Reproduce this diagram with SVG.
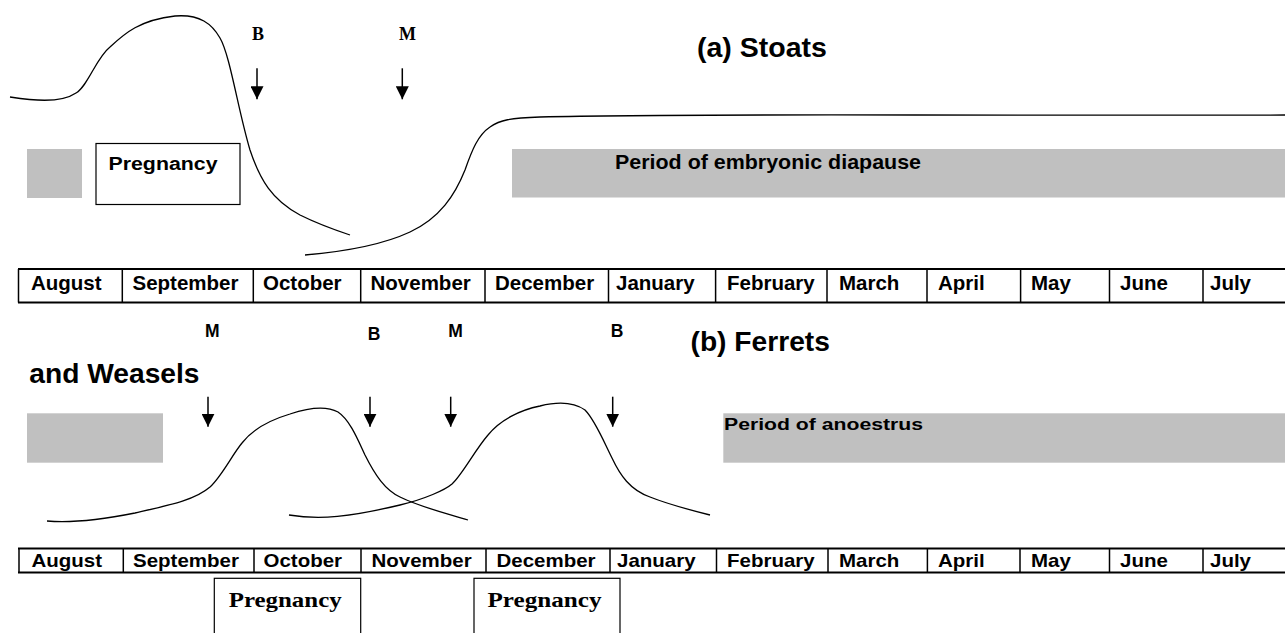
<svg xmlns="http://www.w3.org/2000/svg" width="1285" height="633" viewBox="0 0 1285 633">
<style>
.sans{font-family:"Liberation Sans",Arial,sans-serif;font-weight:bold;fill:#000}
.serif{font-family:"Liberation Serif","Times New Roman",serif;font-weight:bold;fill:#000}
.mon{font-size:20.5px}
.gray{fill:#c0c0c0;stroke:none}
.box{fill:#fff;stroke:#000;stroke-width:1.2}
.curve{fill:none;stroke:#000;stroke-width:1.3}
.arrow{stroke:#000;stroke-width:1.5;fill:none;marker-end:url(#ah)}
.hl{stroke:#000;stroke-width:2}
.vl{stroke:#000;stroke-width:1.5}
</style>
<defs>
<marker id="ah" viewBox="0 0 12 12" refX="12" refY="6" markerWidth="13" markerHeight="13" markerUnits="userSpaceOnUse" orient="auto">
<path d="M0,0 L12,6 L0,12 Z" fill="#000"/>
</marker>
</defs>
<rect width="1285" height="633" fill="#fff"/>

<!-- (a) Stoats -->
<g id="title-a"><text class="sans" x="697" y="57" font-size="28.5">(a) Stoats</text></g>
<g id="gray-a-left"><rect class="gray" x="27" y="149" width="55" height="49"/></g>
<g id="pregnancy-a"><rect class="box" x="96" y="143.5" width="144" height="61"/>
<text class="sans" transform="translate(108.5,170) scale(1,0.9)" font-size="21" textLength="109" lengthAdjust="spacingAndGlyphs">Pregnancy</text></g>
<g id="diapause"><rect class="gray" x="512" y="149" width="773" height="48.5"/>
<text class="sans" transform="translate(615,169.3) scale(1,0.93)" font-size="21.5" textLength="306" lengthAdjust="spacingAndGlyphs">Period of embryonic diapause</text></g>
<g id="label-a-B"><text class="serif" x="252" y="39.5" font-size="18">B</text></g>
<g id="label-a-M"><text class="serif" x="399" y="39.5" font-size="18">M</text></g>

<g id="curves-a">
<path class="curve" d="M10,97 C30,100 60,104 76,93 C88,86 96,58 110,47 C125,33 140,20 175,16 C200,14 212,24 220,38 C230,55 238,110 250,150 C260,180 272,200 300,215 C320,225 335,230 350,235"/>
<path class="curve" d="M305,255 C340,252 380,246 410,232 C440,218 455,195 465,170 C472,150 478,135 490,127 C500,120 510,118 540,117 C700,113 900,116 1285,115"/>
</g>

<!-- top month bar -->
<g id="months-a">
<line class="hl" x1="18" y1="269" x2="1285" y2="269"/>
<line class="hl" x1="18" y1="302.5" x2="1285" y2="302.5"/>
<g class="vl">
<line x1="18.5" y1="269" x2="18.5" y2="302.5"/>
<line x1="122.3" y1="269" x2="122.3" y2="302.5"/>
<line x1="253.3" y1="269" x2="253.3" y2="302.5"/>
<line x1="360.7" y1="269" x2="360.7" y2="302.5"/>
<line x1="485" y1="269" x2="485" y2="302.5"/>
<line x1="608.5" y1="269" x2="608.5" y2="302.5"/>
<line x1="715.6" y1="269" x2="715.6" y2="302.5"/>
<line x1="827" y1="269" x2="827" y2="302.5"/>
<line x1="927" y1="269" x2="927" y2="302.5"/>
<line x1="1020.6" y1="269" x2="1020.6" y2="302.5"/>
<line x1="1109.5" y1="269" x2="1109.5" y2="302.5"/>
<line x1="1203" y1="269" x2="1203" y2="302.5"/>
</g>
<g class="sans mon">
<text x="31" y="290">August</text>
<text x="132.5" y="290">September</text>
<text x="263" y="290">October</text>
<text x="370.5" y="290">November</text>
<text x="495" y="290">December</text>
<text x="616" y="290">January</text>
<text x="727" y="290">February</text>
<text x="839" y="290">March</text>
<text x="938" y="290">April</text>
<text x="1031" y="290">May</text>
<text x="1120" y="290">June</text>
<text x="1210" y="290">July</text>
</g>
</g>

<!-- (b) Ferrets and Weasels -->
<g id="title-b"><text class="sans" x="690.5" y="350.7" font-size="28.2">(b) Ferrets</text>
<text class="sans" x="29.3" y="382.7" font-size="28.2">and Weasels</text></g>
<g id="gray-b-left"><rect class="gray" x="27" y="413.3" width="136" height="49.4"/></g>
<g id="anoestrus"><rect class="gray" x="723.3" y="413.3" width="561.7" height="49.4"/>
<text class="sans" transform="translate(724,430) scale(1,0.8)" font-size="21.2" textLength="199" lengthAdjust="spacingAndGlyphs">Period of anoestrus</text></g>
<g id="label-b-M1"><text class="sans" x="205" y="336.7" font-size="17.5">M</text></g>
<g id="label-b-B1"><text class="sans" x="367.7" y="340" font-size="17.5">B</text></g>
<g id="label-b-M2"><text class="sans" x="448.3" y="336.7" font-size="17.5">M</text></g>
<g id="label-b-B2"><text class="sans" x="610.7" y="336.7" font-size="17.5">B</text></g>

<g id="curves-b">
<path class="curve" d="M47,521 C70,523 100,520 135,513 C170,505 195,500 210,487 C222,476 232,455 242,443 C252,430 270,420 290,414 C305,409 325,405 338,412 C350,420 358,440 365,455 C375,475 385,490 400,497 C420,507 445,513 468,520"/>
<path class="curve" d="M289,515 C320,520 350,517 400,505 C425,499 445,490 452,484 C462,475 475,450 488,435 C500,420 520,410 540,406 C560,401 575,403 585,410 C595,420 603,440 612,458 C620,475 630,490 650,497 C670,505 690,510 710,515"/>
</g>

<!-- bottom month bar -->
<g id="months-b">
<line class="hl" x1="18" y1="548.5" x2="1285" y2="548.5"/>
<line class="hl" x1="18" y1="572.5" x2="1285" y2="572.5"/>
<g class="vl">
<line x1="19" y1="548.5" x2="19" y2="572.5"/>
<line x1="123.3" y1="548.5" x2="123.3" y2="572.5"/>
<line x1="254" y1="548.5" x2="254" y2="572.5"/>
<line x1="361" y1="548.5" x2="361" y2="572.5"/>
<line x1="486" y1="548.5" x2="486" y2="572.5"/>
<line x1="610" y1="548.5" x2="610" y2="572.5"/>
<line x1="716.5" y1="548.5" x2="716.5" y2="572.5"/>
<line x1="828" y1="548.5" x2="828" y2="572.5"/>
<line x1="927.4" y1="548.5" x2="927.4" y2="572.5"/>
<line x1="1020" y1="548.5" x2="1020" y2="572.5"/>
<line x1="1109.5" y1="548.5" x2="1109.5" y2="572.5"/>
<line x1="1203" y1="548.5" x2="1203" y2="572.5"/>
</g>
<g class="sans mon">
<text transform="translate(31.5,567) scale(1,0.86)">August</text>
<text transform="translate(133,567) scale(1,0.86)">September</text>
<text transform="translate(263.5,567) scale(1,0.86)">October</text>
<text transform="translate(371.5,567) scale(1,0.86)">November</text>
<text transform="translate(496.5,567) scale(1,0.86)">December</text>
<text transform="translate(617,567) scale(1,0.86)">January</text>
<text transform="translate(727,567) scale(1,0.86)">February</text>
<text transform="translate(839,567) scale(1,0.86)">March</text>
<text transform="translate(938,567) scale(1,0.86)">April</text>
<text transform="translate(1031,567) scale(1,0.86)">May</text>
<text transform="translate(1120,567) scale(1,0.86)">June</text>
<text transform="translate(1210,567) scale(1,0.86)">July</text>
</g>
</g>

<g id="pregnancy-b1"><rect class="box" x="214.3" y="578.3" width="146.4" height="70"/>
<text class="serif" x="228.7" y="607" font-size="22" textLength="113" lengthAdjust="spacingAndGlyphs">Pregnancy</text></g>
<g id="pregnancy-b2"><rect class="box" x="474" y="578.3" width="146" height="70"/>
<text class="serif" x="487.5" y="607" font-size="22" textLength="114" lengthAdjust="spacingAndGlyphs">Pregnancy</text></g>

<g id="connectors">
<line class="arrow" x1="257" y1="68.3" x2="257" y2="99.3"/>
<line class="arrow" x1="402.3" y1="68.3" x2="402.3" y2="99.3"/>
<line class="arrow" x1="208" y1="396.7" x2="208" y2="426.7"/>
<line class="arrow" x1="370" y1="396.7" x2="370" y2="426.7"/>
<line class="arrow" x1="450.7" y1="396.7" x2="450.7" y2="426.7"/>
<line class="arrow" x1="612.7" y1="396.7" x2="612.7" y2="426.7"/>
</g>
</svg>
